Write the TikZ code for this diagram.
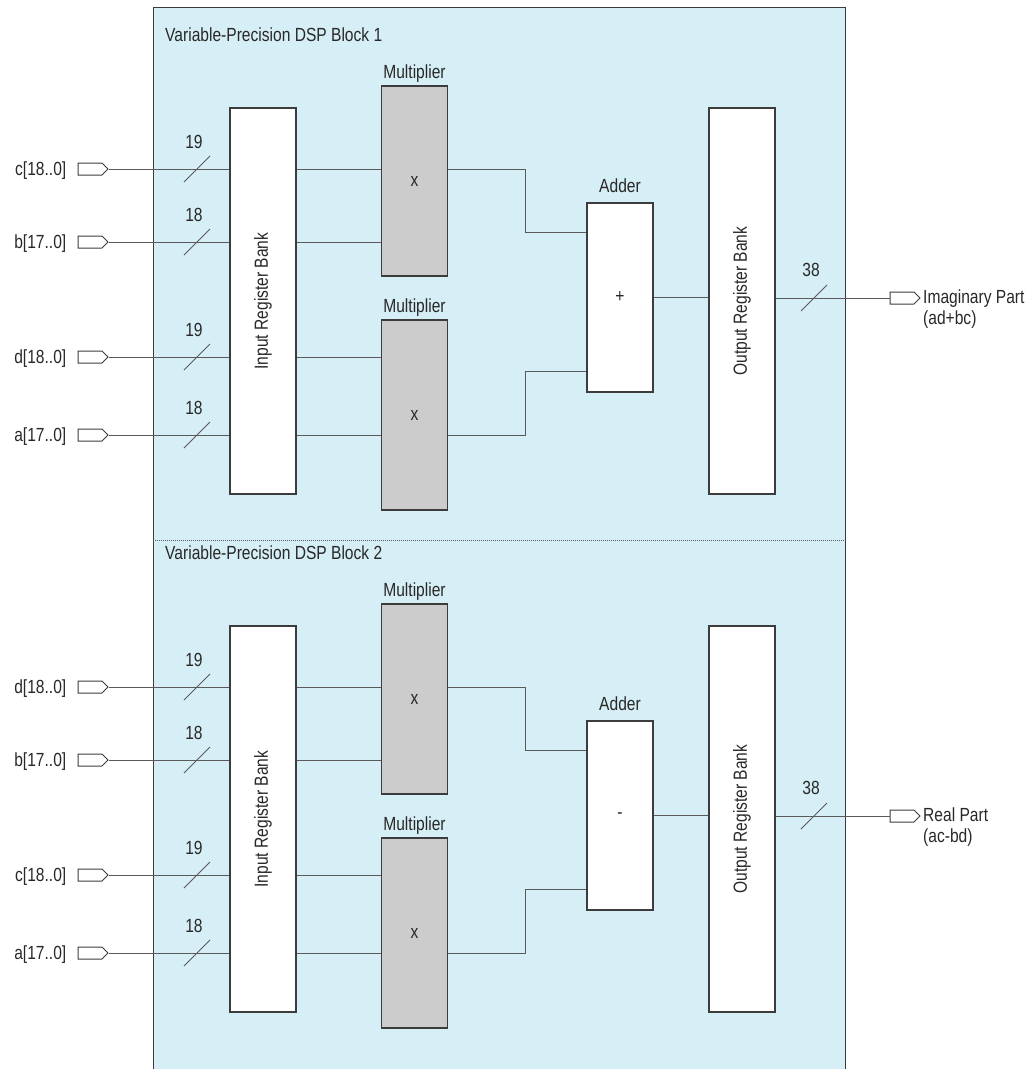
\documentclass[tikz,border=0pt]{standalone}
\usepackage{fontspec}
\setmainfont[FakeStretch=0.82]{Liberation Sans}
\usepackage{graphicx}
\usepackage{tikz}
\usetikzlibrary{positioning,shapes.symbols}

\definecolor{dspblue}{RGB}{214,238,245}
\definecolor{mulgray}{RGB}{204,204,204}
\definecolor{wiregray}{RGB}{90,90,90}
\definecolor{edgegray}{RGB}{60,60,60}
\definecolor{textgray}{RGB}{40,40,40}

\tikzset{
  lbl/.style={inner sep=1pt, text=textgray, font=\fontsize{19}{22}\selectfont},
  tag/.style={lbl, text height=18pt, text depth=5pt},
  regbank/.style={lbl, draw=edgegray, fill=white, line width=1.2pt, minimum width=66pt, minimum height=386pt, inner sep=0pt},
  mulbox/.style={lbl, draw=edgegray, fill=mulgray, line width=1.2pt, minimum width=66pt, minimum height=190pt, inner sep=0pt},
  addbox/.style={lbl, draw=edgegray, fill=white, line width=1.2pt, minimum width=66pt, minimum height=189pt, inner sep=0pt},
  pin/.style={signal, signal to=east, draw=edgegray, fill=white, line width=1pt, minimum width=30pt, minimum height=12pt, inner sep=0pt},
  wire/.style={draw=wiregray, line width=1pt},
}

\begin{document}
\begin{tikzpicture}[x=1pt, y=-1pt, line cap=butt, line join=miter]

  %% ════ DSP blocks (background) ════
  \fill[dspblue] (153,7) rectangle (845,1069);
  \draw[edgegray, line width=1pt] (153,1069) |- (845,7) -- (845,1069);
  \draw[wiregray, line width=0.8pt, dash pattern=on 1pt off 1pt] (153,540) -- (845,540);

  \node[tag, anchor=west] (title1) at (164,35) {Variable-Precision DSP Block 1};
  \node[tag, anchor=west] (title2) at (164,553) {Variable-Precision DSP Block 2};

  %% ════ block 1 : imaginary part ════
  \node[regbank] (inreg1) at (263,301) {\rotatebox{90}{Input Register Bank}};
  \node[mulbox] (mula1) at (414.5,181) {x};
  \node[mulbox] (mulb1) at (414.5,415) {x};
  \node[addbox] (add1) at (620,297.5) {+};
  \node[regbank] (outreg1) at (742,301) {\rotatebox{90}{Output Register Bank}};
  \node[tag, above=1pt of mula1] (mula1t) {Multiplier};
  \node[tag, above=1pt of mulb1] (mulb1t) {Multiplier};
  \node[tag, above=4pt of add1] (add1t) {Adder};

  % input pins
  \node[pin] (pc1) at (90,169) {};
  \node[pin] (pb1) at (90,242) {};
  \node[pin] (pd1) at (90,357) {};
  \node[pin] (pa1) at (90,435) {};
  \node[tag, left=10pt of pc1] (tc1) {c[18..0]};
  \node[tag, left=10pt of pb1] (tb1) {b[17..0]};
  \node[tag, left=10pt of pd1] (td1) {d[18..0]};
  \node[tag, left=10pt of pa1] (ta1) {a[17..0]};

  \draw[wire] (pc1.east) -- (pc1.east -| inreg1.west);
  \draw[wire] (pb1.east) -- (pb1.east -| inreg1.west);
  \draw[wire] (pd1.east) -- (pd1.east -| inreg1.west);
  \draw[wire] (pa1.east) -- (pa1.east -| inreg1.west);

  % bus width marks
  \coordinate (sc1) at (197,169);
  \coordinate (sb1) at (197,242);
  \coordinate (sd1) at (197,357);
  \coordinate (sa1) at (197,435);
  \draw[wire] ([shift={(-13,13)}]sc1) -- ([shift={(13,-13)}]sc1);
  \draw[wire] ([shift={(-13,13)}]sb1) -- ([shift={(13,-13)}]sb1);
  \draw[wire] ([shift={(-13,13)}]sd1) -- ([shift={(13,-13)}]sd1);
  \draw[wire] ([shift={(-13,13)}]sa1) -- ([shift={(13,-13)}]sa1);
  \node[tag] (wc1) at (194,142) {19};
  \node[tag] (wb1) at (194,215) {18};
  \node[tag] (wd1) at (194,330) {19};
  \node[tag] (wa1) at (194,408) {18};

  % register bank -> multipliers -> adder
  \draw[wire] (inreg1.east |- pc1) -- (mula1.west |- pc1);
  \draw[wire] (inreg1.east |- pb1) -- (mula1.west |- pb1);
  \draw[wire] (inreg1.east |- pd1) -- (mulb1.west |- pd1);
  \draw[wire] (inreg1.east |- pa1) -- (mulb1.west |- pa1);
  \coordinate (ja1) at (525,232);
  \coordinate (jb1) at (525,371);
  \draw[wire] (mula1.east |- pc1) -| (ja1) -- (ja1 -| add1.west);
  \draw[wire] (mulb1.east |- pa1) -| (jb1) -- (jb1 -| add1.west);
  \draw[wire] (add1.east) -- (add1.east -| outreg1.west);

  % output
  \node[pin] (pim) at (902,298) {};
  \draw[wire] (outreg1.east |- pim) -- (pim.west);
  \coordinate (sim) at (814,298);
  \draw[wire] ([shift={(-13,13)}]sim) -- ([shift={(13,-13)}]sim);
  \node[tag] (wim) at (811,270) {38};
  \node[tag, anchor=west] (tim) at (922,297) {Imaginary Part};
  \node[tag, anchor=west] (tim2) at (922,318) {(ad+bc)};

  %% ════ block 2 : real part ════
  \node[regbank] (inreg2) at (263,819) {\rotatebox{90}{Input Register Bank}};
  \node[mulbox] (mula2) at (414.5,699) {x};
  \node[mulbox] (mulb2) at (414.5,933) {x};
  \node[addbox] (add2) at (620,815.5) {-};
  \node[regbank] (outreg2) at (742,819) {\rotatebox{90}{Output Register Bank}};
  \node[tag, above=1pt of mula2] (mula2t) {Multiplier};
  \node[tag, above=1pt of mulb2] (mulb2t) {Multiplier};
  \node[tag, above=4pt of add2] (add2t) {Adder};

  % input pins
  \node[pin] (pd2) at (90,687) {};
  \node[pin] (pb2) at (90,760) {};
  \node[pin] (pc2) at (90,875) {};
  \node[pin] (pa2) at (90,953) {};
  \node[tag, left=10pt of pd2] (td2) {d[18..0]};
  \node[tag, left=10pt of pb2] (tb2) {b[17..0]};
  \node[tag, left=10pt of pc2] (tc2) {c[18..0]};
  \node[tag, left=10pt of pa2] (ta2) {a[17..0]};

  \draw[wire] (pd2.east) -- (pd2.east -| inreg2.west);
  \draw[wire] (pb2.east) -- (pb2.east -| inreg2.west);
  \draw[wire] (pc2.east) -- (pc2.east -| inreg2.west);
  \draw[wire] (pa2.east) -- (pa2.east -| inreg2.west);

  % bus width marks
  \coordinate (sd2) at (197,687);
  \coordinate (sb2) at (197,760);
  \coordinate (sc2) at (197,875);
  \coordinate (sa2) at (197,953);
  \draw[wire] ([shift={(-13,13)}]sd2) -- ([shift={(13,-13)}]sd2);
  \draw[wire] ([shift={(-13,13)}]sb2) -- ([shift={(13,-13)}]sb2);
  \draw[wire] ([shift={(-13,13)}]sc2) -- ([shift={(13,-13)}]sc2);
  \draw[wire] ([shift={(-13,13)}]sa2) -- ([shift={(13,-13)}]sa2);
  \node[tag] (wd2) at (194,660) {19};
  \node[tag] (wb2) at (194,733) {18};
  \node[tag] (wc2) at (194,848) {19};
  \node[tag] (wa2) at (194,926) {18};

  % register bank -> multipliers -> adder
  \draw[wire] (inreg2.east |- pd2) -- (mula2.west |- pd2);
  \draw[wire] (inreg2.east |- pb2) -- (mula2.west |- pb2);
  \draw[wire] (inreg2.east |- pc2) -- (mulb2.west |- pc2);
  \draw[wire] (inreg2.east |- pa2) -- (mulb2.west |- pa2);
  \coordinate (ja2) at (525,750);
  \coordinate (jb2) at (525,889);
  \draw[wire] (mula2.east |- pd2) -| (ja2) -- (ja2 -| add2.west);
  \draw[wire] (mulb2.east |- pa2) -| (jb2) -- (jb2 -| add2.west);
  \draw[wire] (add2.east) -- (add2.east -| outreg2.west);

  % output
  \node[pin] (pre) at (902,816) {};
  \draw[wire] (outreg2.east |- pre) -- (pre.west);
  \coordinate (sre) at (814,816);
  \draw[wire] ([shift={(-13,13)}]sre) -- ([shift={(13,-13)}]sre);
  \node[tag] (wre) at (811,788) {38};
  \node[tag, anchor=west] (tre) at (922,815) {Real Part};
  \node[tag, anchor=west] (tre2) at (922,836) {(ac-bd)};

  % fix the canvas to the reference size
  \pgfresetboundingbox
  \path[use as bounding box] (0,0) rectangle (1031,1069);
\end{tikzpicture}
\end{document}
